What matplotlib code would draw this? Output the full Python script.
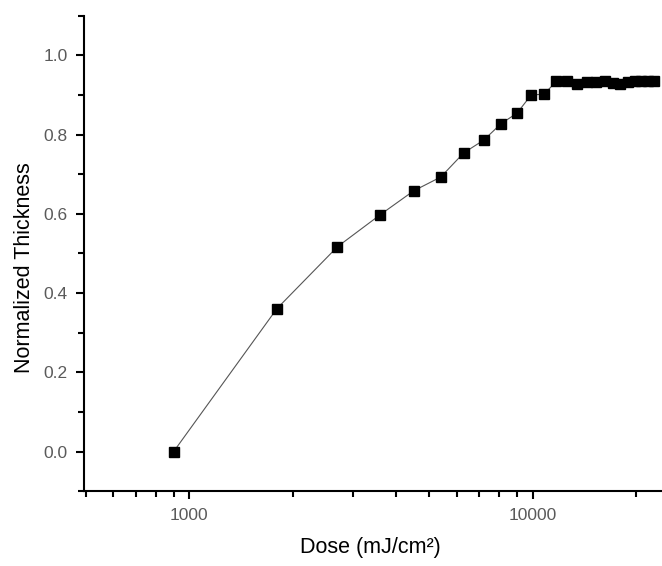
import matplotlib
matplotlib.use("Agg")
import matplotlib.pyplot as plt
from matplotlib.ticker import FixedLocator, NullFormatter, FormatStrFormatter

# dose values (mJ/cm^2) and normalized thickness
dose = [900, 1800, 2700, 3600, 4500, 5400, 6300, 7200, 8100, 9000,
        9900, 10800, 11700, 12600, 13500, 14400, 15300, 16200, 17100,
        18000, 18900, 19800, 20700, 21600, 22500]
thickness = [0.000, 0.361, 0.517, 0.598, 0.658, 0.693, 0.754, 0.786, 0.828, 0.854,
             0.900, 0.902, 0.934, 0.934, 0.928, 0.932, 0.933, 0.935, 0.930,
             0.928, 0.932, 0.934, 0.934, 0.935, 0.935]

x_major = [1000, 10000]
x_minor = [500, 600, 700, 800, 900, 2000, 3000, 4000, 5000, 6000, 7000, 8000, 9000, 20000]
y_major = [0.0, 0.2, 0.4, 0.6, 0.8, 1.0]
y_minor = [-0.1, 0.1, 0.3, 0.5, 0.7, 0.9, 1.1]

plt.rcParams['font.family'] = ['Liberation Sans', 'DejaVu Sans']

W, H = 662, 566
fig = plt.figure(figsize=(W / 100, H / 100), dpi=100)
left, right, top, bottom = 84.3, 662, 15.7, 491.3
ax = fig.add_axes([left / W, 1 - bottom / H, (right - left) / W, (bottom - top) / H])

ax.plot(dose, thickness, color='#555555', lw=0.8, marker='s', ms=7.2,
        mfc='black', mec='black', clip_on=False, zorder=3)

ax.set_xscale('log')
ax.set_xlim(494.6, 23800)
ax.set_ylim(-0.1, 1.1)

for s in ['top', 'right']:
    ax.spines[s].set_visible(False)
for s in ['left', 'bottom']:
    ax.spines[s].set_linewidth(1.5)

ax.xaxis.set_major_locator(FixedLocator(x_major))
ax.xaxis.set_minor_locator(FixedLocator(x_minor))
ax.xaxis.set_major_formatter(FormatStrFormatter('%d'))
ax.xaxis.set_minor_formatter(NullFormatter())
ax.yaxis.set_major_locator(FixedLocator(y_major))
ax.yaxis.set_minor_locator(FixedLocator(y_minor))
ax.yaxis.set_major_formatter(FormatStrFormatter('%.1f'))

ax.tick_params(which='major', direction='out', length=6, width=1.5,
               labelsize=12.5, labelcolor='#5a5a5a', pad=6)
ax.tick_params(which='minor', direction='out', length=4, width=1.5)

ax.set_xlabel('Dose (mJ/cm²)', fontsize=15.5)
ax.set_ylabel('Normalized Thickness', fontsize=15.5)
ax.xaxis.set_label_coords((370 - left) / (right - left), -(548 - bottom) / (bottom - top))
ax.yaxis.set_label_coords(-(left - 25) / (right - left), (bottom - 268) / (bottom - top))
ax.xaxis.label.set_va('center')
ax.yaxis.label.set_va('center')

fig.savefig('out.png', dpi=100)
